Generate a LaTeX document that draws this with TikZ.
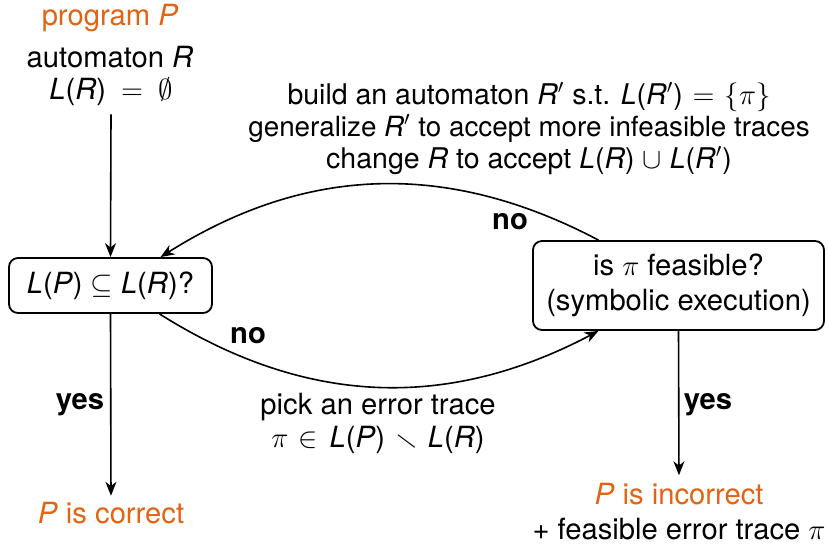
\documentclass[tikz,border=0pt]{standalone}
\usepackage{amssymb}
\usepackage{fontspec}
\setmainfont{TeX Gyre Heros}
\usetikzlibrary{arrows.meta}
\definecolor{myorange}{RGB}{226,99,18}
\newcommand{\mi}[1]{\textit{#1}}
\begin{document}
\begin{tikzpicture}[x=0.5pt,y=-0.5pt,
  every node/.style={font=\fontsize{14.6}{17}\selectfont, inner sep=0pt},
  txt/.style={align=center},
  decbox/.style={draw, line width=0.9pt, rounded corners=4.5pt, align=center},
  conn/.style={line width=0.8pt, -{Stealth[length=7pt,width=5.5pt,inset=2.2pt]}},
  lbl/.style={font=\fontsize{14.6}{17}\selectfont\bfseries}]
\useasboundingbox (0,0) rectangle (828,543);

% start texts
\node[txt, text=myorange] (prog) at (110,18) {program \mi{P}};
\node[txt] (aut) at (110,57) {automaton \mi{R}};
\node[txt] (init) at (111,92) {\mi{L}(\mi{R})\hspace{7.5pt}$=$\hspace{7.5pt}$\emptyset$};

% decision boxes
\node[decbox, minimum width=101.5pt, minimum height=27.5pt] (inc) at (110.5,285.5)
  {\mi{L}(\mi{P})$\;\subseteq\;$\mi{L}(\mi{R})?};
\node[decbox, minimum width=145.5pt, minimum height=44.5pt] (feas) at (678.5,285.5)
  {is $\pi$ feasible?\\[0.5pt](symbolic execution)};

% results
\node[txt, text=myorange] (correct) at (111,513) {\mi{P} is correct};
\node[txt, align=center, font=\fontsize{14.6}{17.5}\selectfont] (incorrect) at (679,512)
  {\textcolor{myorange}{\mi{P} is incorrect}\\+ feasible error trace $\pi$};

% edge texts
\node[txt, font=\fontsize{14.25}{15.9}\selectfont] (refine) at (529,128.5)
  {build an automaton \mi{R}$'$ s.t. \mi{L}(\mi{R}$'$)\hspace{5pt}$=$\hspace{5pt}$\{\pi\}$\\
   {\fontsize{13.9}{15.9}\selectfont generalize \mi{R}$'$ to accept more infeasible traces}\\
   change \mi{R} to accept \mi{L}(\mi{R})\hspace{4pt}$\cup$\hspace{4pt}\mi{L}(\mi{R}$'$)};
\node[txt, font=\fontsize{14.6}{16.5}\selectfont] (pick) at (378,423.5)
  {pick an error trace\\
   $\pi$\hspace{5pt}$\in$\hspace{6pt}\mi{L}(\mi{P})\hspace{5pt}$\smallsetminus$\hspace{5pt}\mi{L}(\mi{R})};

\node[lbl] (yes1) at (80,405) {yes};
\node[lbl] (yes2) at (708,405) {yes};
\node[lbl] (no1) at (248,336) {no};
\node[lbl] (no2) at (510,222) {no};

% connectors
\draw[conn] ([yshift=-4pt]init.south) -- (inc.north);
\draw[conn, shorten >=3pt] (inc.south) -- (correct.north);
\draw[conn, shorten >=4pt] (feas.south) -- (incorrect.north);
\draw[conn] ([xshift=24.5pt]inc.south) to[bend right=30] ([xshift=-40pt]feas.south);
\draw[conn] ([xshift=-40pt]feas.north) to[bend right=30] ([xshift=25pt]inc.north);
\end{tikzpicture}
\end{document}
